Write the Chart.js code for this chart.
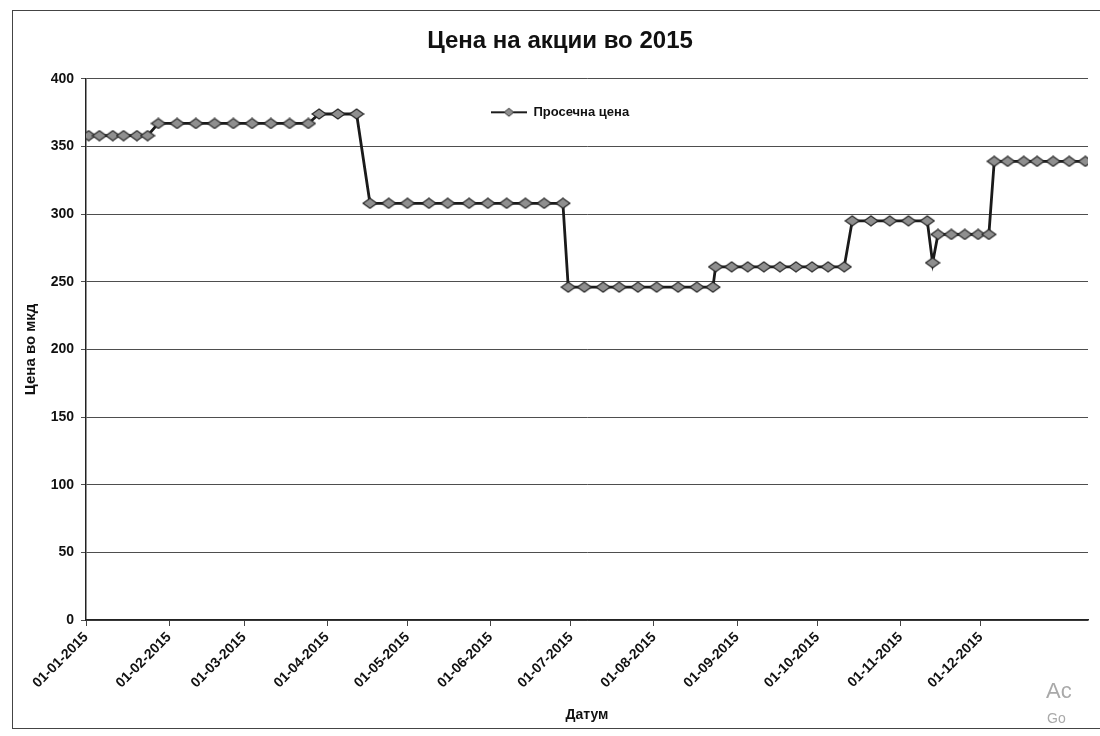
<!DOCTYPE html>
<html lang="mk">
<head>
<meta charset="UTF-8">
<title>Цена на акции во 2015</title>
<script src="https://cdn.jsdelivr.net/npm/chart.js"></script>
<style>
  html, body { margin: 0; padding: 0; background: #fff; overflow: hidden; }
  .wrap { position: relative; width: 1100px; height: 736px; }
  .frame { position: absolute; left: 12px; top: 10px; width: 1100px; height: 717px; border: 1px solid #444; }
  canvas { position: absolute; left: 0; top: 0; }
</style>
</head>
<body>
<div class="wrap">
  <div class="frame"></div>
  <canvas id="priceChart" width="1100" height="736"></canvas>
</div>
<script>
// датуми на мерењата и просечната цена (мкд), прочитани од графиконот
const dates = [
  '2015-01-02', '2015-01-06', '2015-01-11', '2015-01-15', '2015-01-20', '2015-01-24',
  '2015-01-28', '2015-02-04', '2015-02-11', '2015-02-18', '2015-02-25', '2015-03-04', '2015-03-11', '2015-03-18', '2015-03-25',
  '2015-03-29', '2015-04-05', '2015-04-12',
  '2015-04-17', '2015-04-24', '2015-05-01', '2015-05-09', '2015-05-16', '2015-05-24', '2015-05-31', '2015-06-07', '2015-06-14', '2015-06-21', '2015-06-28',
  '2015-06-30', '2015-07-06', '2015-07-13', '2015-07-19', '2015-07-26', '2015-08-02', '2015-08-10', '2015-08-17', '2015-08-23',
  '2015-08-24', '2015-08-30', '2015-09-05', '2015-09-11', '2015-09-17', '2015-09-23', '2015-09-29', '2015-10-05', '2015-10-11',
  '2015-10-14', '2015-10-21', '2015-10-28', '2015-11-04', '2015-11-11',
  '2015-11-13',
  '2015-11-15', '2015-11-20', '2015-11-25', '2015-11-30', '2015-12-04',
  '2015-12-06', '2015-12-11', '2015-12-17', '2015-12-22', '2015-12-28', '2016-01-03', '2016-01-09'
];
const prices = [
  358, 358, 358, 358, 358, 358,
  367, 367, 367, 367, 367, 367, 367, 367, 367,
  374, 374, 374,
  308, 308, 308, 308, 308, 308, 308, 308, 308, 308, 308,
  246, 246, 246, 246, 246, 246, 246, 246, 246,
  261, 261, 261, 261, 261, 261, 261, 261, 261,
  295, 295, 295, 295, 295,
  264,
  285, 285, 285, 285, 285,
  339, 339, 339, 339, 339, 339, 339
];
const monthTicks = [
  '2015-01-01', '2015-02-01', '2015-03-01', '2015-04-01', '2015-05-01', '2015-06-01',
  '2015-07-01', '2015-08-01', '2015-09-01', '2015-10-01', '2015-11-01', '2015-12-01'
];
const monthLabels = [
  '01-01-2015', '01-02-2015', '01-03-2015', '01-04-2015', '01-05-2015', '01-06-2015',
  '01-07-2015', '01-08-2015', '01-09-2015', '01-10-2015', '01-11-2015', '01-12-2015'
];
const axisEnd = '2016-01-10';

const day0 = Date.parse('2015-01-01');
const toDay = s => (Date.parse(s) - day0) / 864e5;
const points = dates.map((d, i) => ({ x: toDay(d), y: prices[i] }));
const tickDays = monthTicks.map(toDay);

const FONT = '"Liberation Sans", Arial, sans-serif';
const ink = '#111';

// сплескан ромб како маркер (Excel стил)
function drawDiamond(g, cx, cy) {
  g.fillStyle = '#8f8f8f';
  g.strokeStyle = '#262626';
  g.lineWidth = 1.2;
  g.beginPath();
  g.moveTo(cx, cy - 5); g.lineTo(cx + 7, cy); g.lineTo(cx, cy + 5); g.lineTo(cx - 7, cy);
  g.closePath();
  g.fill(); g.stroke();
}
const pointMark = document.createElement('canvas');
pointMark.width = 16;
pointMark.height = 12;
drawDiamond(pointMark.getContext('2d'), 8, 6);

// знак за легендата: линија со ромб
const legendMark = document.createElement('canvas');
legendMark.width = 36;
legendMark.height = 12;
(function () {
  const g = legendMark.getContext('2d');
  g.strokeStyle = '#1c1c1c';
  g.lineWidth = 2;
  g.beginPath(); g.moveTo(0, 6); g.lineTo(36, 6); g.stroke();
  g.save(); g.translate(18, 6); g.scale(0.7, 0.8); drawDiamond(g, 0, 0); g.restore();
})();

// легендата се поместува во површината на графиконот, како во Excel
const legendInPlot = {
  id: 'legendInPlot',
  afterLayout(chart) {
    const lg = chart.legend;
    const h = lg.bottom - lg.top;
    lg.top = chart.chartArea.top + 27;
    lg.bottom = lg.top + h;
  }
};

const watermark = {
  id: 'watermark',
  afterDraw(chart) {
    const c = chart.ctx;
    c.save();
    c.fillStyle = '#a9a9a9';
    c.font = '22px ' + FONT;
    c.fillText('Ac', 1046, 692);
    c.font = '14px ' + FONT;
    c.fillText('Go', 1047, 719);
    c.restore();
  }
};

new Chart(document.getElementById('priceChart'), {
  type: 'line',
  data: {
    datasets: [{
      label: 'Просечна цена',
      data: points,
      borderColor: '#1a1a1a',
      borderWidth: 2.8,
      pointStyle: pointMark,
      pointRadius: 6,
      tension: 0,
      fill: false
    }]
  },
  options: {
    responsive: false,
    animation: false,
    devicePixelRatio: 1,
    layout: { padding: { left: 32, right: 12, top: 0, bottom: 8 } },
    plugins: {
      title: {
        display: true,
        text: 'Цена на акции во 2015',
        color: ink,
        font: { family: FONT, size: 24, weight: 'bold' },
        padding: { top: 27, bottom: 0 }
      },
      legend: {
        position: 'top',
        align: 'center',
        labels: {
          usePointStyle: true,
          pointStyleWidth: 36,
          boxHeight: 12,
          padding: 0,
          color: ink,
          font: { family: FONT, size: 13, weight: 'bold' },
          generateLabels(chart) {
            const items = Chart.defaults.plugins.legend.labels.generateLabels(chart);
            items.forEach(it => { it.pointStyle = legendMark; });
            return items;
          }
        }
      },
      tooltip: { enabled: false }
    },
    scales: {
      x: {
        type: 'linear',
        min: 0,
        max: toDay(axisEnd),
        afterBuildTicks: s => { s.ticks = tickDays.map(v => ({ value: v })); },
        afterFit: s => { s.height = 108; },
        ticks: {
          autoSkip: false,
          minRotation: 45,
          maxRotation: 45,
          padding: 3,
          color: ink,
          font: { family: FONT, size: 14, weight: 'bold' },
          callback: (v, i) => monthLabels[i]
        },
        grid: { drawOnChartArea: false, drawTicks: true, tickLength: 6, color: '#444' },
        border: { color: '#222', width: 1.5 },
        title: {
          display: true,
          text: 'Датум',
          color: ink,
          font: { family: FONT, size: 14, weight: 'bold' },
          padding: { top: 0, bottom: 4 }
        }
      },
      y: {
        min: 0,
        max: 400,
        afterFit: s => { s.width = 54; },
        ticks: {
          stepSize: 50,
          padding: 7,
          color: ink,
          font: { family: FONT, size: 14, weight: 'bold' }
        },
        grid: { color: '#4e4e4e', lineWidth: 1, tickLength: 5 },
        border: { color: '#222', width: 1.5 },
        title: {
          display: true,
          text: 'Цена во мкд',
          color: ink,
          font: { family: FONT, size: 15, weight: 'bold' },
          padding: { top: -10, bottom: 0 }
        }
      }
    }
  },
  plugins: [legendInPlot, watermark]
});
</script>
</body>
</html>
